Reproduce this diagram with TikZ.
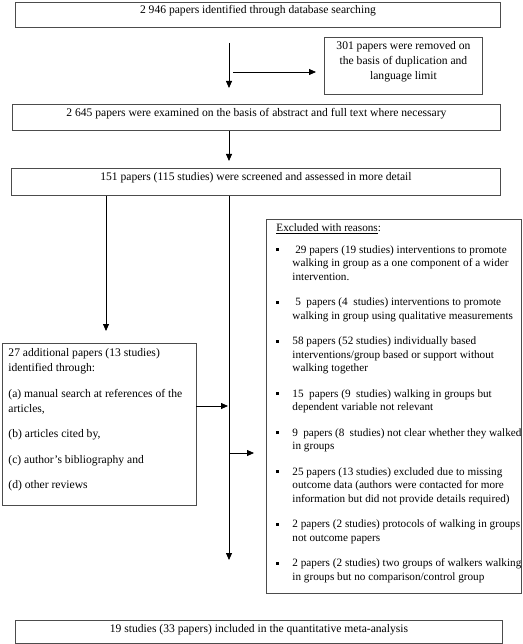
\documentclass[tikz,border=0pt]{standalone}
\usepackage{fontspec}
\setmainfont{Liberation Serif}
\usetikzlibrary{arrows.meta}
\newcommand{\bul}{\makebox[16pt][l]{\raisebox{2.4pt}{\rule{2.5pt}{2.9pt}}}}
\begin{document}
\begin{tikzpicture}[x=1pt,y=-1pt,
  box/.style={draw=black!70,line width=0.9pt,inner sep=0pt,anchor=north west,
    font=\fontsize{11.6}{13.5}\selectfont},
  arr/.style={line width=0.8pt,draw=black,-{Triangle[length=7pt,width=6pt]}},
  ln/.style={line width=0.8pt,draw=black}]
\useasboundingbox (0,0) rectangle (522,644);

% main boxes
\node[box] (b1) at (15,2) {\parbox[t][25pt][t]{485pt}{\centering\rule{0pt}{11pt}2 946 papers identified through database searching}};
\node[box,font=\fontsize{11.6}{15}\selectfont] (b301) at (324,37) {\parbox[t][57pt][t]{158pt}{\centering\rule{0pt}{12pt}301 papers were removed on\\the basis of duplication and\\language limit}};
\node[box] (b3) at (12,104) {\parbox[t][26pt][t]{488pt}{\centering\rule{0pt}{12pt}2 645 papers were examined on the basis of abstract and full text where necessary}};
\node[box] (b4) at (11,168) {\parbox[t][27pt][t]{489pt}{\centering\rule{0pt}{12pt}151 papers (115 studies) were screened and assessed in more detail}};
\node[box] (b5) at (15,620) {\parbox[t][23pt][t]{487pt}{\centering\rule{0pt}{12pt}19 studies (33 papers) included in the quantitative meta-analysis}};

% left box
\node[box,font=\fontsize{11.6}{15}\selectfont] (lb) at (2,343) {\parbox[t][162pt][t]{194pt}{\leftskip=6pt\parindent=0pt
\rule{0pt}{13pt}27 additional papers (13 studies)\\identified through:\par
\vspace{11pt}(a) manual search at references of the\\articles,\par
\vspace{10.5pt}(b) articles cited by,\par
\vspace{10.5pt}(c) author's bibliography and\par
\vspace{10.5pt}(d) other reviews\par}};

% excluded box
\node[box,font=\fontsize{11.2}{13.5}\selectfont] (ex) at (266,219) {\parbox[t][374pt][t]{255pt}{\leftskip=10pt\parindent=0pt\hangafter=1
\rule{0pt}{12pt}\underline{Excluded with reasons}:\par
\vspace{8.5pt}\hangindent=16pt\bul\ 29 papers (19 studies) interventions to promote\\walking in group as a one component of a wider\\intervention.\par
\vspace{12pt}\hangindent=16pt\bul\ 5\ \ papers (4\ \ studies) interventions to promote\\walking in group using qualitative measurements\par
\vspace{12pt}\hangindent=16pt\bul 58 papers (52 studies) individually based\\interventions/group based or support without\\walking together\par
\vspace{12pt}\hangindent=16pt\bul 15\ \ papers (9\ \ studies) walking in groups but\\dependent variable not relevant\par
\vspace{12pt}\hangindent=16pt\bul 9\ \ papers (8\ \ studies) not clear whether they walked\\in groups\par
\vspace{12pt}\hangindent=16pt\bul 25 papers (13 studies) excluded due to missing\\outcome data (authors were contacted for more\\information but did not provide details required)\par
\vspace{12pt}\hangindent=16pt\bul 2 papers (2 studies) protocols of walking in groups\\not outcome papers\par
\vspace{12pt}\hangindent=16pt\bul 2 papers (2 studies) two groups of walkers walking\\in groups but no comparison/control group\par}};

% connector coordinates
\coordinate (c1s) at (229,43);
\coordinate (c1e) at (229,88);
\coordinate (c2s) at (233,72);
\coordinate (c2e) at (316,72);
\coordinate (c3e) at (229,161);
\coordinate (c4x) at (106,331);
\coordinate (c5e) at (229,560);
\coordinate (c6s) at (196,406);
\coordinate (c6e) at (228,406);
\coordinate (c7s) at (229,453);
\coordinate (c7e) at (254,453);

% connectors
\draw[arr] (c1s) -- (c1e);
\draw[arr] (c2s) -- (c2e);
\draw[arr] (b3.south -| c1s) -- (c3e);
\draw[arr] (b4.south -| c4x) -- (c4x);
\draw[arr] (b4.south -| c1s) -- (c5e);
\draw[arr] (c6s) -- (c6e);
\draw[arr] (c7s) -- (c7e);
\end{tikzpicture}
\end{document}
